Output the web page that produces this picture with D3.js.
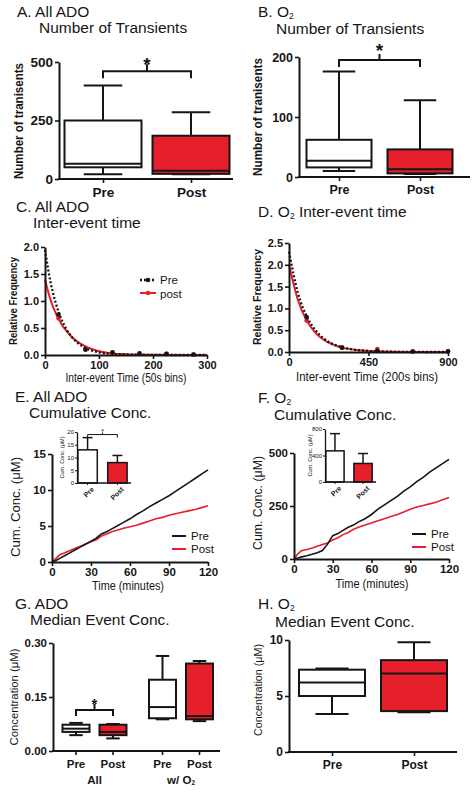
<!DOCTYPE html>
<html><head><meta charset="utf-8">
<script src="https://cdn.jsdelivr.net/npm/d3@7"></script>
<style>
body{margin:0;background:#fff}
svg{display:block}
text{font-family:"Liberation Sans",Arial,Helvetica,sans-serif;fill:#151515}
</style>
</head><body>
<svg id="c" width="474" height="794"></svg>
<script>
// ---------------- DATA ----------------
const groupCats = ["Pre", "Post"];
// A. All ADO – number of transients [min, q1, median, q3, max]
const adoTransientBoxes = [[20, 50, 65, 250, 400], [20, 22, 35, 185, 285]];
const adoTransientTicks = [0, 250, 500];
const adoTransientSig = 460;
// B. O2 – number of transients
const o2TransientBoxes = [[10, 16, 27, 62, 176], [5, 6, 13, 46, 128]];
const o2TransientTicks = [0, 100, 200];
const o2TransientSig = 195;
// C. All ADO – inter-event time
const adoFitX = [0, 10, 20, 30, 40, 50, 60, 75, 100, 125, 150, 200, 250, 300];
const adoPreFit = [1.95, 1.36, 0.96, 0.67, 0.47, 0.33, 0.23, 0.13, 0.05, 0.02, 0.01, 0.003, 0, 0];
const adoPostFit = [1.40, 1.03, 0.77, 0.58, 0.44, 0.33, 0.25, 0.16, 0.07, 0.03, 0.015, 0.004, 0, 0];
const adoBinX = [25, 75, 125, 175, 225, 275];
const adoPreBins = [0.75, 0.1, 0.05, 0.03, 0.02, 0.01];
const adoPostBins = [0.68, 0.1, 0.04, 0.02, 0.02, 0.01];
const adoInterXTicks = [0, 100, 200, 300];
const adoInterYTicks = [0, 0.5, 1, 1.5, 2];
// D. O2 – inter-event time
const o2FitX = [0, 50, 100, 150, 200, 250, 300, 400, 500, 600, 700, 800, 900];
const o2PreFit = [2.3, 1.36, 0.82, 0.5, 0.3, 0.18, 0.11, 0.04, 0.015, 0.005, 0.002, 0, 0];
const o2PostFit = [2.0, 1.2, 0.72, 0.44, 0.27, 0.17, 0.1, 0.04, 0.015, 0.005, 0.002, 0, 0];
const o2BinX = [100, 300, 500, 700, 900];
const o2PreBins = [0.8, 0.1, 0.03, 0.01, 0.01];
const o2PostBins = [0.72, 0.1, 0.07, 0.01, 0.02];
const o2InterXTicks = [0, 450, 900];
const o2InterYTicks = [0, 0.5, 1, 1.5, 2, 2.5];
// E. All ADO – cumulative concentration
const cumTime = [0, 3, 6, 10, 14, 18, 22, 26, 30, 34, 38, 42, 46, 50, 55, 60, 65, 70, 75, 80, 85, 90, 95, 100, 105, 110, 115, 120];
const adoCumPre = [0, 0.2, 0.5, 0.9, 1.3, 1.7, 2.1, 2.5, 2.9, 3.3, 3.9, 4.2, 4.6, 5.0, 5.5, 6.0, 6.6, 7.1, 7.7, 8.2, 8.7, 9.2, 9.8, 10.4, 11.0, 11.6, 12.2, 12.8];
const adoCumPost = [0, 0.5, 1.0, 1.3, 1.6, 1.9, 2.2, 2.5, 2.8, 3.1, 3.6, 3.9, 4.2, 4.4, 4.7, 4.9, 5.1, 5.4, 5.7, 6.0, 6.2, 6.5, 6.7, 6.9, 7.1, 7.3, 7.55, 7.8];
const adoCumTicks = [0, 5, 10, 15];
const timeTicks = [0, 30, 60, 90, 120];
const adoCumMeans = [13, 8];
const adoCumErr = [17.8, 10.8];
const adoCumInsetTicks = [0, 5, 10, 15, 20];
const adoCumInsetSig = 19;
// F. O2 – cumulative concentration
const o2CumPre = [0, 5, 10, 15, 22, 30, 40, 70, 110, 120, 135, 150, 160, 175, 190, 210, 235, 255, 275, 295, 320, 340, 365, 385, 410, 430, 450, 470];
const o2CumPost = [0, 25, 40, 45, 52, 60, 68, 75, 90, 100, 115, 125, 140, 150, 160, 170, 180, 190, 200, 210, 222, 235, 245, 252, 260, 268, 280, 290];
const o2CumTicks = [0, 250, 500];
const o2CumMeans = [470, 280];
const o2CumErr = [730, 430];
const o2CumInsetTicks = [0, 400, 800];
// G. ADO – median event concentration
const medianGroups = ["All", "w/ O2"];
const medianAdoBoxes = [[0.044, 0.053, 0.062, 0.073, 0.078], [0.035, 0.044, 0.053, 0.073, 0.075],
                        [0.088, 0.091, 0.122, 0.198, 0.264], [0.083, 0.088, 0.097, 0.243, 0.25]];
const medianAdoTicks = [0, 0.15, 0.3];
const medianAdoSig = 0.114;
// H. O2 – median event concentration
const medianO2Boxes = [[3.4, 5.0, 6.2, 7.35, 7.45], [3.55, 3.65, 7.0, 8.2, 9.8]];
const medianO2Ticks = [0, 5, 10];

// ---------------- DRAWING ----------------
const RED = "#e5202a";
const INK = "#151515";
const svg = d3.select("#c");

function rich(parent, x, y, segs, fs, opts = {}) {
  const t = parent.append("text").attr("x", x).attr("y", y).attr("font-size", fs)
    .attr("font-weight", opts.bold ? "bold" : "normal")
    .attr("text-anchor", opts.anchor || "start");
  if (opts.transform) t.attr("transform", opts.transform);
  let sub = false;
  segs.forEach(s => {
    if (s.startsWith("_")) {
      t.append("tspan").attr("font-size", fs * 0.55).attr("dy", fs * 0.13).text(s.slice(1));
      sub = true;
    } else {
      const sp = t.append("tspan").text(s);
      if (sub) { sp.attr("dy", -fs * 0.13); sub = false; }
    }
  });
  if (opts.len) t.attr("textLength", opts.len).attr("lengthAdjust", "spacingAndGlyphs");
  return t;
}
function ylabel(cx, cy, segs, fs, opts = {}) {
  return rich(svg, 0, 0, segs, fs, Object.assign({anchor: "middle", transform: `translate(${cx},${cy}) rotate(-90)`}, opts));
}
function styleAxis(g, fs, bold = true) {
  g.select(".domain").attr("stroke", INK).attr("stroke-width", 2);
  g.selectAll(".tick line").attr("stroke", INK).attr("stroke-width", 1.6);
  g.selectAll(".tick text").attr("font-size", fs).attr("font-weight", bold ? "bold" : "normal")
    .attr("fill", INK).attr("font-family", '"Liberation Sans",Arial,sans-serif');
}
function leftAxis(y, x, ticks, fmt, fs, size = 4) {
  const g = svg.append("g").attr("transform", `translate(${x},0)`)
    .call(d3.axisLeft(y).tickValues(ticks).tickFormat(fmt).tickSize(size).tickSizeOuter(0).tickPadding(2));
  styleAxis(g, fs);
  return g;
}
function bottomAxis(x, y0, ticks, fmt, fs, size = 4) {
  const g = svg.append("g").attr("transform", `translate(0,${y0})`)
    .call(d3.axisBottom(x).tickValues(ticks).tickFormat(fmt).tickSize(size).tickSizeOuter(0).tickPadding(2));
  styleAxis(g, fs);
  return g;
}
function catAxis(xpos, cats, y0, x0, x1, fs) {
  const g = svg.append("g").attr("transform", `translate(0,${y0})`)
    .call(d3.axisBottom(xpos).tickSize(4).tickPadding(4));
  g.select(".domain").remove();
  styleAxis(g, fs);
  svg.append("line").attr("x1", x0 - 1).attr("x2", x1).attr("y1", y0).attr("y2", y0)
    .attr("stroke", INK).attr("stroke-width", 2);
  return g;
}
function drawBox(g, cx, w, b, y, fill) {
  const [mn, q1, md, q3, mx] = b;
  const cap = w * 0.5;
  const ln = (x1, y1, x2, y2) => g.append("line").attr("x1", x1).attr("y1", y1).attr("x2", x2).attr("y2", y2)
    .attr("stroke", INK).attr("stroke-width", 2);
  ln(cx, y(q3), cx, y(mx)); ln(cx - cap / 2, y(mx), cx + cap / 2, y(mx));
  ln(cx, y(q1), cx, y(mn)); ln(cx - cap / 2, y(mn), cx + cap / 2, y(mn));
  g.append("rect").attr("x", cx - w / 2).attr("y", y(q3)).attr("width", w).attr("height", Math.max(0.5, y(q1) - y(q3)))
    .attr("fill", fill).attr("stroke", INK).attr("stroke-width", 2);
  ln(cx - w / 2, y(md), cx + w / 2, y(md));
}
function bracket(xa, xb, yl, drop, rise, fs, gap) {
  const p = d3.path();
  p.moveTo(xa, yl + drop); p.lineTo(xa, yl); p.lineTo(xb, yl); p.lineTo(xb, yl + drop);
  p.moveTo((xa + xb) / 2, yl); p.lineTo((xa + xb) / 2, yl - rise);
  svg.append("path").attr("d", p.toString()).attr("fill", "none").attr("stroke", INK).attr("stroke-width", 2);
  svg.append("text").attr("x", (xa + xb) / 2).attr("y", yl - rise - gap + fs * 0.59).attr("text-anchor", "middle")
    .attr("font-size", fs).attr("font-weight", "bold").text("*");
}
function boxPanel(cfg) {
  const x = d3.scalePoint().domain(groupCats).range(cfg.centers);
  const y = d3.scaleLinear().domain(cfg.domain).range([cfg.yb, cfg.yt]);
  const g = svg.append("g");
  cfg.boxes.forEach((b, i) => drawBox(g, x(groupCats[i]), cfg.boxW, b, y, i === 0 ? "#fff" : RED));
  leftAxis(y, cfg.x0, cfg.ticks, cfg.fmt, cfg.fs);
  catAxis(x, groupCats, cfg.yb, cfg.x0, cfg.x1, cfg.fs);
  if (cfg.sig != null) bracket(x("Pre"), x("Post"), y(cfg.sig), 7, cfg.rise, 19, cfg.gap);
  return {x, y};
}

// ---- A ----
rich(svg, 17, 17, ["A. All ADO"], 15.5);
rich(svg, 39, 33, ["Number of Transients"], 15.5);
boxPanel({centers: [103, 191], domain: [0, 500], yb: 179, yt: 62, x0: 59, x1: 233, boxW: 77,
  boxes: adoTransientBoxes, ticks: adoTransientTicks, fmt: d3.format("d"), fs: 13.5, sig: adoTransientSig, rise: 7, gap: 5});
ylabel(23, 121, ["Number of tranisents"], 12.5, {bold: true, len: 116});

// ---- B ----
rich(svg, 258, 17, ["B. O", "_2"], 15.5);
rich(svg, 276, 34, ["Number of Transients"], 15.5);
boxPanel({centers: [339, 420], domain: [0, 200], yb: 177, yt: 57, x0: 299, x1: 470, boxW: 65,
  boxes: o2TransientBoxes, ticks: o2TransientTicks, fmt: d3.format("d"), fs: 12.5, sig: o2TransientSig, rise: 6, gap: 8});
ylabel(262, 117, ["Number of tranisents"], 12, {bold: true, len: 118});

// ---- C / D inter-event ----
function interPanel(cfg) {
  const x = d3.scaleLinear().domain(cfg.xd).range([cfg.x0, cfg.x1]);
  const y = d3.scaleLinear().domain(cfg.yd).range([cfg.yb, cfg.yt]);
  const line = d3.line().x(d => x(d[0])).y(d => y(d[1])).curve(d3.curveMonotoneX);
  svg.append("path").attr("d", line(d3.zip(cfg.fitX, cfg.post))).attr("fill", "none").attr("stroke", RED).attr("stroke-width", 2);
  svg.selectAll(null).data(d3.zip(cfg.binX, cfg.postBins)).join("circle")
    .attr("cx", d => x(d[0])).attr("cy", d => y(d[1])).attr("r", 2.3).attr("fill", RED);
  svg.append("path").attr("d", line(d3.zip(cfg.fitX, cfg.pre))).attr("fill", "none").attr("stroke", INK)
    .attr("stroke-width", 2.3).attr("stroke-dasharray", "2,2");
  svg.selectAll(null).data(d3.zip(cfg.binX, cfg.preBins)).join("circle")
    .attr("cx", d => x(d[0])).attr("cy", d => y(d[1])).attr("r", 2.3).attr("fill", INK);
  leftAxis(y, cfg.x0, cfg.yticks, d3.format(".1f"), cfg.fs);
  bottomAxis(x, cfg.yb, cfg.xticks, d3.format("d"), cfg.fs);
  return {x, y};
}
rich(svg, 16, 212, ["C. All ADO"], 15.5);
rich(svg, 33, 228, ["Inter-event time"], 15.5);
interPanel({xd: [0, 300], yd: [0, 2], x0: 45, x1: 207, yb: 355, yt: 247, fitX: adoFitX, pre: adoPreFit, post: adoPostFit,
  binX: adoBinX, preBins: adoPreBins, postBins: adoPostBins, xticks: adoInterXTicks, yticks: adoInterYTicks, fs: 11});
ylabel(17, 301, ["Relative Frequency"], 10.5, {bold: true, len: 88});
rich(svg, 126, 382, ["Inter-event Time (50s bins)"], 12, {anchor: "middle", len: 121});
// legend C
svg.append("line").attr("x1", 140).attr("x2", 156).attr("y1", 280).attr("y2", 280).attr("stroke", INK).attr("stroke-width", 2.3).attr("stroke-dasharray", "2,2");
svg.append("circle").attr("cx", 148).attr("cy", 280).attr("r", 2.3).attr("fill", INK);
svg.append("line").attr("x1", 140).attr("x2", 156).attr("y1", 293).attr("y2", 293).attr("stroke", RED).attr("stroke-width", 2);
svg.append("circle").attr("cx", 148).attr("cy", 293).attr("r", 2.3).attr("fill", RED);
rich(svg, 160, 284, ["Pre"], 11.5);
rich(svg, 160, 297.5, ["post"], 11.5);

rich(svg, 258, 217, ["D. O", "_2", " Inter-event time"], 15.5);
interPanel({xd: [0, 900], yd: [0, 2.5], x0: 289, x1: 448, yb: 352, yt: 243, fitX: o2FitX, pre: o2PreFit, post: o2PostFit,
  binX: o2BinX, preBins: o2PreBins, postBins: o2PostBins, xticks: o2InterXTicks, yticks: o2InterYTicks, fs: 11});
ylabel(261, 297, ["Relative Frequency"], 11, {bold: true, len: 96});
rich(svg, 367, 381, ["Inter-event Time (200s bins)"], 12.5, {anchor: "middle", len: 142});

// ---- E / F cumulative ----
function cumPanel(cfg) {
  const x = d3.scaleLinear().domain([0, 120]).range([cfg.x0, cfg.x1]);
  const y = d3.scaleLinear().domain(cfg.yd).range([cfg.yb, cfg.yt]);
  const line = d3.line().x(d => x(d[0])).y(d => y(d[1]));
  svg.append("path").attr("d", line(d3.zip(cumTime, cfg.post))).attr("fill", "none").attr("stroke", RED).attr("stroke-width", 1.6);
  svg.append("path").attr("d", line(d3.zip(cumTime, cfg.pre))).attr("fill", "none").attr("stroke", INK).attr("stroke-width", 1.6);
  leftAxis(y, cfg.x0, cfg.yticks, d3.format("d"), cfg.fs);
  bottomAxis(x, cfg.yb, timeTicks, d3.format("d"), cfg.fs);
  // legend
  const L = cfg.legend;
  svg.append("line").attr("x1", L[0]).attr("x2", L[0] + 14).attr("y1", L[1]).attr("y2", L[1]).attr("stroke", INK).attr("stroke-width", 2);
  svg.append("line").attr("x1", L[0]).attr("x2", L[0] + 14).attr("y1", L[1] + 13).attr("y2", L[1] + 13).attr("stroke", RED).attr("stroke-width", 2);
  rich(svg, L[0] + 19, L[1] + 4, ["Pre"], 11.5);
  rich(svg, L[0] + 19, L[1] + 17, ["Post"], 11.5);
  // inset
  const I = cfg.inset;
  const ix = d3.scaleBand().domain(groupCats).range([I.x0, I.x1]).paddingInner(0.35).paddingOuter(0.03);
  const iy = d3.scaleLinear().domain(I.yd).range([I.yb, I.yt]);
  cfg.means.forEach((m, i) => {
    const c = groupCats[i];
    const cx = ix(c) + ix.bandwidth() / 2;
    svg.append("line").attr("x1", cx).attr("x2", cx).attr("y1", iy(m)).attr("y2", iy(cfg.err[i])).attr("stroke", INK).attr("stroke-width", 1.5);
    svg.append("line").attr("x1", cx - 5).attr("x2", cx + 5).attr("y1", iy(cfg.err[i])).attr("y2", iy(cfg.err[i])).attr("stroke", INK).attr("stroke-width", 1.5);
    svg.append("rect").attr("x", ix(c)).attr("y", iy(m)).attr("width", ix.bandwidth()).attr("height", iy(0) - iy(m))
      .attr("fill", i === 0 ? "#fff" : RED).attr("stroke", INK).attr("stroke-width", 1.5);
  });
  const ga = svg.append("g").attr("transform", `translate(${I.x0},0)`)
    .call(d3.axisLeft(iy).tickValues(I.ticks).tickSize(2).tickSizeOuter(0).tickPadding(1));
  styleAxis(ga, 6, false);
  ga.select(".domain").attr("stroke-width", 1.3);
  ga.selectAll(".tick line").attr("stroke-width", 1);
  const gb = svg.append("g").attr("transform", `translate(0,${I.yb})`)
    .call(d3.axisBottom(ix).tickSize(2).tickSizeOuter(0).tickPadding(1));
  gb.select(".domain").remove();
  styleAxis(gb, 7);
  gb.selectAll(".tick line").attr("stroke-width", 1);
  gb.selectAll(".tick text").attr("text-anchor", "end").attr("dy", "0.35em").attr("transform", "translate(3,3) rotate(-45)");
  svg.append("line").attr("x1", I.x0).attr("x2", I.x1 + 3).attr("y1", I.yb).attr("y2", I.yb).attr("stroke", INK).attr("stroke-width", 1.3);
  ylabel(I.x0 - 13, (I.yb + I.yt) / 2, ["Cum. Conc. (μM)"], 5.5, {});
  if (I.sig != null) {
    const xa = ix("Pre") + ix.bandwidth() / 2, xb = ix("Post") + ix.bandwidth() / 2, yl = iy(I.sig);
    svg.append("path").attr("d", `M${xa},${yl + 3}V${yl}H${xb}V${yl + 3}M${(xa + xb) / 2},${yl}V${yl - 2}`)
      .attr("fill", "none").attr("stroke", INK).attr("stroke-width", 1);
    svg.append("text").attr("x", (xa + xb) / 2).attr("y", yl - 1).attr("text-anchor", "middle").attr("font-size", 7).text("*");
  }
}
rich(svg, 15, 402, ["E. All ADO"], 15.5);
rich(svg, 29, 418, ["Cumulative Conc."], 15.5);
cumPanel({yd: [0, 15], x0: 52, x1: 208, yb: 562, yt: 454, pre: adoCumPre, post: adoCumPost, yticks: adoCumTicks, fs: 11.5,
  legend: [172, 536], means: adoCumMeans, err: adoCumErr,
  inset: {x0: 77, x1: 128, yb: 483, yt: 432, yd: [0, 20], ticks: adoCumInsetTicks, sig: adoCumInsetSig}});
ylabel(20, 507, ["Cum. Conc. (μM)"], 12, {len: 100});
rich(svg, 128, 590, ["Time (minutes)"], 12.5, {anchor: "middle", len: 72});

rich(svg, 258, 403, ["F. O", "_2"], 15.5);
rich(svg, 274, 420, ["Cumulative Conc."], 15.5);
cumPanel({yd: [0, 500], x0: 294, x1: 449, yb: 559, yt: 453, pre: o2CumPre, post: o2CumPost, yticks: o2CumTicks, fs: 11.5,
  legend: [412, 534], means: o2CumMeans, err: o2CumErr,
  inset: {x0: 325, x1: 373, yb: 482, yt: 429, yd: [0, 800], ticks: o2CumInsetTicks, sig: null}});
ylabel(262, 503, ["Cum. Conc. (μM)"], 12, {len: 94});
rich(svg, 372, 588, ["Time (minutes)"], 12.5, {anchor: "middle", len: 73});

// ---- G ----
rich(svg, 15, 609, ["G. ADO"], 15.5);
rich(svg, 30, 625, ["Median Event Conc."], 15.5);
{
  const outer = d3.scalePoint().domain(medianGroups).range([94.5, 181]);
  const inner = d3.scalePoint().domain(groupCats).range([-18.5, 18.5]);
  const y = d3.scaleLinear().domain([0, 0.3]).range([751, 643]);
  const g = svg.append("g");
  const keys = [];
  medianGroups.forEach(gr => groupCats.forEach(c => keys.push([gr, c])));
  keys.forEach(([gr, c], i) => drawBox(g, outer(gr) + inner(c), 27, medianAdoBoxes[i], y, c === "Pre" ? "#fff" : RED));
  leftAxis(y, 53, medianAdoTicks, d3.format(".2f"), 11.5);
  svg.append("line").attr("x1", 52).attr("x2", 220).attr("y1", 751).attr("y2", 751).attr("stroke", INK).attr("stroke-width", 2);
  keys.forEach(([gr, c]) => {
    const cx = outer(gr) + inner(c);
    svg.append("line").attr("x1", cx).attr("x2", cx).attr("y1", 751).attr("y2", 755).attr("stroke", INK).attr("stroke-width", 1.6);
    rich(svg, cx, 768, [c], 11.5, {anchor: "middle", bold: true});
  });
  rich(svg, outer("All"), 784, ["All"], 11.5, {anchor: "middle", bold: true});
  rich(svg, outer("w/ O2"), 784, ["w/ O", "_2"], 11.5, {anchor: "middle", bold: true});
  bracket(outer("All") + inner("Pre"), outer("All") + inner("Post"), y(medianAdoSig), 6, 6, 15, 4);
  ylabel(18, 697, ["Concentration (μM)"], 11.5, {len: 97});
}

// ---- H ----
rich(svg, 258, 609, ["H. O", "_2"], 15.5);
rich(svg, 275, 627, ["Median Event Conc."], 15.5);
boxPanel({centers: [332, 414], domain: [0, 10], yb: 752, yt: 640, x0: 289, x1: 457, boxW: 66,
  boxes: medianO2Boxes, ticks: medianO2Ticks, fmt: d3.format("d"), fs: 12, sig: null});
ylabel(262, 690, ["Concentration (μM)"], 11.5, {len: 92});
</script>
</body></html>
